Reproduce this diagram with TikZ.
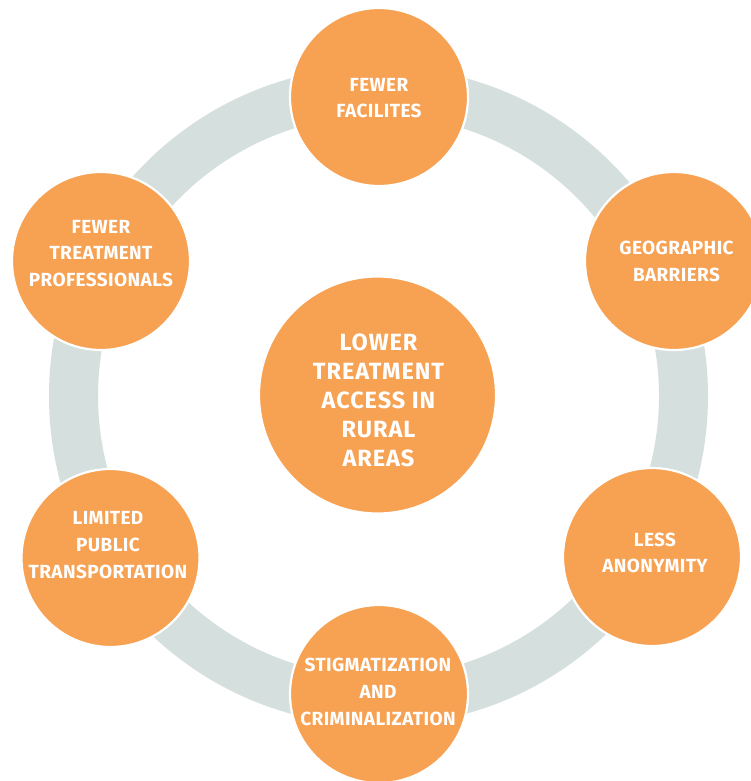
\documentclass[tikz,border=0pt]{standalone}
\usepackage{fontspec}
\setmainfont{Fira Sans}
\newfontfamily\hubfont[LetterSpace=4]{Fira Sans}
\newfontfamily\satfont[LetterSpace=2]{Fira Sans}
\definecolor{orng}{RGB}{247,161,83}
\definecolor{ringgray}{RGB}{213,223,221}
\begin{document}
\begin{tikzpicture}[x=1pt,y=-1pt,
  bubble/.style={circle,fill=orng,draw=white,line width=2.2pt,inner sep=0pt,outer sep=0pt,minimum size=178pt},
  hub/.style={bubble,minimum size=237pt},
  lbl/.style={text=white,align=center,font=\satfont\bfseries\fontsize{19}{26.7}\selectfont,inner sep=0pt},
  hublbl/.style={lbl,font=\hubfont\bfseries\fontsize{23.5}{29}\selectfont}]
\useasboundingbox (0,0) rectangle (750,781);
\fill[white] (0,0) rectangle (750,781);
\coordinate (ctr) at (378.5,396);
\draw[ringgray,line width=49pt] (ctr) circle[radius=305pt];
\node[hub] (hubc) at (377.5,395) {};
\node[bubble] (top) at (379,97) {};
\node[bubble] (tr) at (674,261) {};
\node[bubble] (br) at (652,557) {};
\node[bubble] (bot) at (379,694) {};
\node[bubble] (bl) at (110.5,558) {};
\node[bubble] (tl) at (101,261) {};
\node[hublbl] (thub) at (378.5,400.5) {LOWER\\TREATMENT\\ACCESS IN\\RURAL\\AREAS};
\node[lbl] (ttop) at (379,98) {FEWER\\FACILITES};
\node[lbl] (ttr) at (676.5,261.5) {GEOGRAPHIC\\BARRIERS};
\node[lbl] (tbr) at (655,553) {LESS\\ANONYMITY};
\node[lbl] (tbot) at (378,692) {STIGMATIZATION\\AND\\CRIMINALIZATION};
\node[lbl] (tbl) at (108,545) {LIMITED\\PUBLIC\\TRANSPORTATION};
\node[lbl] (ttl) at (101,253.5) {FEWER\\TREATMENT\\PROFESSIONALS};
\end{tikzpicture}
\end{document}
